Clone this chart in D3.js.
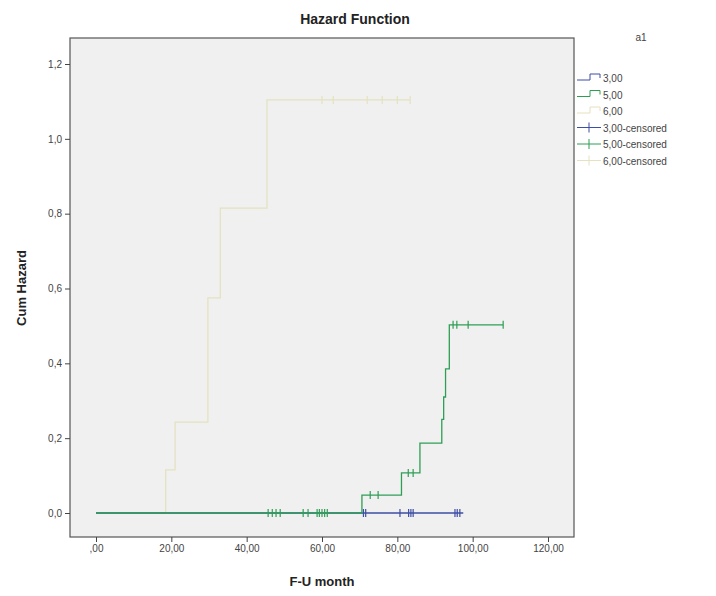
<!DOCTYPE html>
<html><head><meta charset="utf-8">
<script src="https://cdnjs.cloudflare.com/ajax/libs/d3/7.8.5/d3.min.js"></script>
<style>body{margin:0;background:#fff}svg{display:block}</style>
</head><body>
<svg id="chart" width="716" height="596"></svg>
<script>
// ---- data ----
const groups = ["3,00", "5,00", "6,00"];
const legendLabels = ["3,00", "5,00", "6,00", "3,00-censored", "5,00-censored", "6,00-censored"];
const xTicks = [0, 20, 40, 60, 80, 100, 120];
const yTicks = [0, 0.2, 0.4, 0.6, 0.8, 1.0, 1.2];

const g3Times = [0];
const g3Values = [0];
const g3End = 97.5;
const g3Censored = [71, 71.6, 80.7, 83, 83.6, 84.2, 95.3, 95.9, 96.6];

const g5Times = [0, 70.6, 81.1, 86, 91.8, 92.3, 92.8, 93.8];
const g5Values = [0, 0.048, 0.107, 0.187, 0.25, 0.31, 0.385, 0.503];
const g5End = 108.1;
const g5Censored = [45.7, 46.8, 47.8, 48.9, 55, 56.3, 58.7, 59.3, 60, 60.7, 61.4, 72.8, 74.9, 82.9, 84.2, 94.8, 95.8, 98.8, 108.1];

const g6Times = [0, 18.5, 21, 29.7, 33, 45.4];
const g6Values = [0, 0.115, 0.243, 0.575, 0.815, 1.104];
const g6End = 83.4;
const g6Censored = [60, 63, 72, 76, 80, 83.4];

const colors = ["#3d4ea6", "#2f9e55", "#e4e2c0"];

// ---- layout ----
const svg = d3.select("#chart");
const frame = {l: 70, t: 38, r: 574, b: 537};
const x = d3.scaleLinear().domain([0, 120]).range([96, 548]);
const y = d3.scaleLinear().domain([0, 1.2]).range([513, 64]);

svg.append("rect").attr("x", frame.l).attr("y", frame.t)
  .attr("width", frame.r - frame.l).attr("height", frame.b - frame.t)
  .attr("fill", "#f0f0f0").attr("stroke", "#555").attr("stroke-width", 1.2);

// axes
const xAxis = svg.append("g").attr("transform", `translate(0,${frame.b})`)
  .call(d3.axisBottom(x).tickValues(xTicks).tickSize(5).tickSizeOuter(0)
    .tickFormat(d => d === 0 ? ",00" : d3.format(".2f")(d).replace(".", ",")));
const yAxis = svg.append("g").attr("transform", `translate(${frame.l},0)`)
  .call(d3.axisLeft(y).tickValues(yTicks).tickSize(5).tickSizeOuter(0)
    .tickFormat(d => d3.format(".1f")(d).replace(".", ",")));
[xAxis, yAxis].forEach(a => {
  a.select(".domain").remove();
  a.selectAll("line").attr("stroke", "#444");
  a.selectAll("text").attr("fill", "#444").style("font-family", "Liberation Sans, Arial, sans-serif").style("font-size", "10px");
});

// series
const series = [
  {times: g6Times, values: g6Values, end: g6End, cens: g6Censored, color: colors[2]},
  {times: g3Times, values: g3Values, end: g3End, cens: g3Censored, color: colors[0]},
  {times: g5Times, values: g5Values, end: g5End, cens: g5Censored, color: colors[1]}
];
const line = d3.line().x(d => x(d[0])).y(d => y(d[1])).curve(d3.curveStepAfter);
series.forEach(s => {
  const pts = s.times.map((t, i) => [t, s.values[i]]);
  pts.push([s.end, s.values[s.values.length - 1]]);
  svg.append("path").datum(pts).attr("d", line).attr("fill", "none")
    .attr("stroke", s.color).attr("stroke-width", 1.3);
  const valAt = t => { let v = 0; s.times.forEach((tt, i) => { if (tt <= t) v = s.values[i]; }); return v; };
  svg.append("g").selectAll("line").data(s.cens).join("line")
    .attr("x1", d => x(d)).attr("x2", d => x(d))
    .attr("y1", d => y(valAt(d)) - 4).attr("y2", d => y(valAt(d)) + 4)
    .attr("stroke", s.color).attr("stroke-width", 1.2);
});

// titles
svg.append("text").attr("x", 355).attr("y", 24).attr("text-anchor", "middle")
  .style("font-family", "Liberation Sans, Arial, sans-serif").style("font-size", "14px").style("font-weight", "bold")
  .attr("fill", "#222").text("Hazard Function");
svg.append("text").attr("x", 322).attr("y", 586).attr("text-anchor", "middle")
  .style("font-family", "Liberation Sans, Arial, sans-serif").style("font-size", "13px").style("font-weight", "bold")
  .attr("fill", "#222").text("F-U month");
svg.append("text").attr("transform", "translate(26,288) rotate(-90)").attr("text-anchor", "middle")
  .style("font-family", "Liberation Sans, Arial, sans-serif").style("font-size", "13px").style("font-weight", "bold")
  .attr("fill", "#222").text("Cum Hazard");

// legend
const lg = svg.append("g");
lg.append("text").attr("x", 641).attr("y", 41).attr("text-anchor", "middle")
  .style("font-family", "Liberation Sans, Arial, sans-serif").style("font-size", "10px").attr("fill", "#444").text("a1");
const legendColors = [colors[0], colors[1], colors[2], colors[0], colors[1], colors[2]];
legendLabels.forEach((lab, i) => {
  const yy = 78 + i * 16.5;
  if (i < 3) {
    lg.append("path").attr("d", `M577,${yy + 2}H590V${yy - 4}H600V${yy}`).attr("fill", "none")
      .attr("stroke", legendColors[i]).attr("stroke-width", 1);
  } else {
    lg.append("line").attr("x1", 577).attr("x2", 601).attr("y1", yy).attr("y2", yy).attr("stroke", legendColors[i]);
    lg.append("line").attr("x1", 589).attr("x2", 589).attr("y1", yy - 5).attr("y2", yy + 5).attr("stroke", legendColors[i]);
  }
  lg.append("text").attr("x", 603).attr("y", yy + 4)
    .style("font-family", "Liberation Sans, Arial, sans-serif").style("font-size", "10px").attr("fill", "#444").text(lab);
});
</script>
</body></html>
